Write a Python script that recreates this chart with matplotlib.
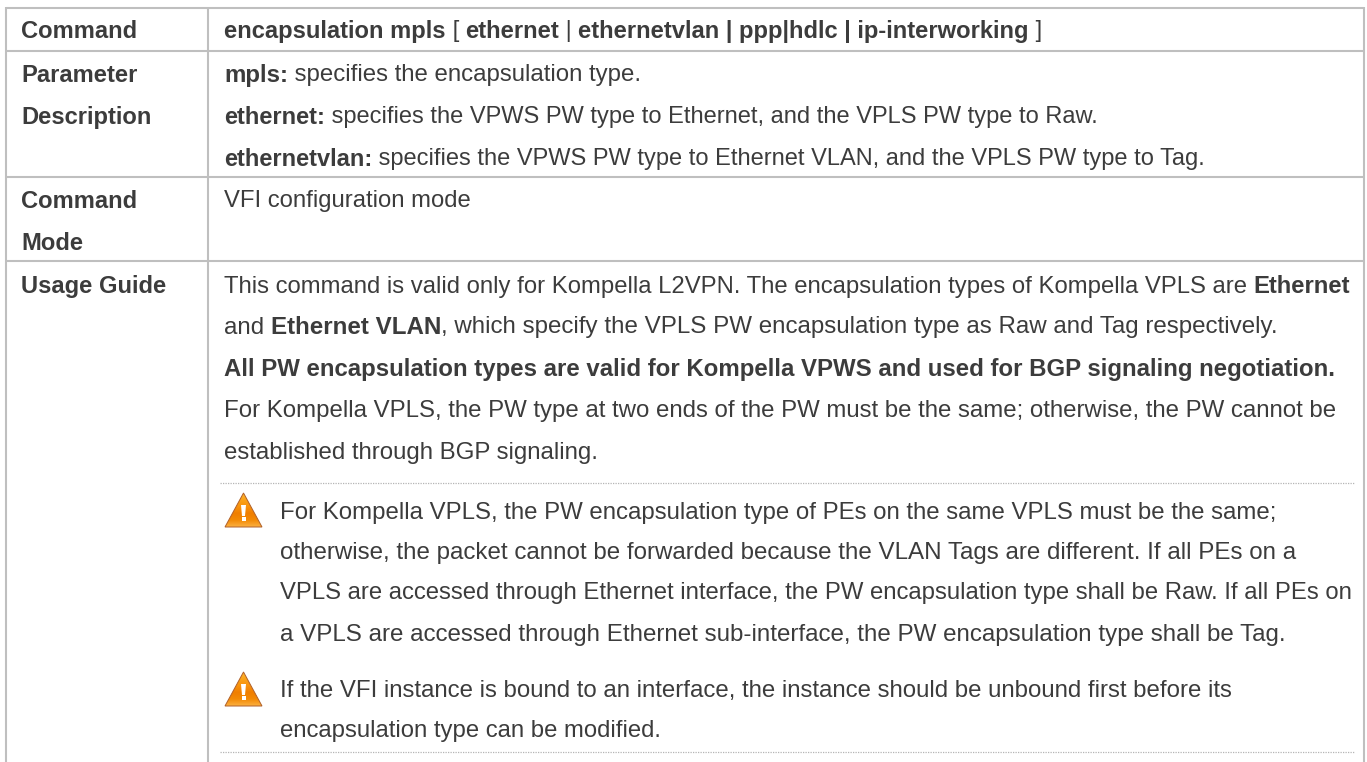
import matplotlib
matplotlib.use('Agg')
import matplotlib.pyplot as plt
from matplotlib.patches import Polygon
import numpy as np

W, H = 1367, 762
GRID = '#bfbfbf'
TEXT = '#3c3c3c'
FONT = 'Liberation Sans'
SIZE = 17.15

# table lines
col_x = [6, 208, 1364]
row_y = [8, 51, 177, 261]
dotted_y = [483, 752]

# (x, y centre, runs) - a run is (text, bold)
left_labels = [
    ('Command', 29), ('Parameter', 73), ('Description', 115),
    ('Command', 199), ('Mode', 241), ('Usage Guide', 284),
]
# last item is where the line ends in the reference
body_lines = [
    (224, 29, [('encapsulation mpls', 1), (' [ ', 0), ('ethernet', 1), (' | ', 0),
               ('ethernetvlan | ppp|hdlc | ip-interworking', 1), (' ]', 0)], 1040),
    (224, 73, [('mpls:', 1), (' specifies the encapsulation type.', 0)], 640),
    (224, 115, [('ethernet:', 1), (' specifies the VPWS PW type to Ethernet, and the VPLS PW type to Raw.', 0)], 1097),
    (224, 157, [('ethernetvlan:', 1), (' specifies the VPWS PW type to Ethernet VLAN, and the VPLS PW type to Tag.', 0)], 1203),
    (224, 199, [('VFI configuration mode', 0)], 471),
    (224, 284, [('This command is valid only for Kompella L2VPN. The encapsulation types of Kompella VPLS are ', 0), ('Ethernet', 1)], 1350),
    (224, 325, [('and ', 0), ('Ethernet VLAN', 1), (', which specify the VPLS PW encapsulation type as Raw and Tag respectively.', 0)], 1277),
    (224, 367, [('All PW encapsulation types are valid for Kompella VPWS and used for BGP signaling negotiation.', 1)], 1335),
    (224, 409, [('For Kompella VPLS, the PW type at two ends of the PW must be the same; otherwise, the PW cannot be', 0)], 1336),
    (224, 451, [('established through BGP signaling.', 0)], 597),
    (280, 510, [('For Kompella VPLS, the PW encapsulation type of PEs on the same VPLS must be the same;', 0)], 1276),
    (280, 550, [('otherwise, the packet cannot be forwarded because the VLAN Tags are different. If all PEs on a', 0)], 1294),
    (280, 591, [('VPLS are accessed through Ethernet interface, the PW encapsulation type shall be Raw. If all PEs on', 0)], 1349),
    (280, 633, [('a VPLS are accessed through Ethernet sub-interface, the PW encapsulation type shall be Tag.', 0)], 1283),
    (280, 688, [('If the VFI instance is bound to an interface, the instance should be unbound first before its', 0)], 1233),
    (280, 729, [('encapsulation type can be modified.', 0)], 661),
]
icon_pos = [(243.5, 510), (243.5, 689)]

fig = plt.figure(figsize=(W / 100, H / 100), dpi=100)
ax = fig.add_axes([0, 0, 1, 1])
ax.set_xlim(0, W)
ax.set_ylim(H, 0)
ax.axis('off')

# grid
for x in col_x:
    ax.plot([x, x], [row_y[0] - 1, H], color=GRID, lw=1.5, solid_capstyle='butt')
for y in row_y:
    ax.plot([col_x[0], col_x[2]], [y, y], color=GRID, lw=1.5, solid_capstyle='butt')
for y in dotted_y:
    ax.plot([220, 1354], [y, y], color='#b5b5b5', lw=0.9, ls=(0, (1, 1)))


def draw_runs(x, y, runs, size=SIZE):
    r = fig.canvas.get_renderer()
    drawn = []
    for s, bold in runs:
        t = ax.text(x, y, s, fontsize=size, family=FONT, color=TEXT, va='center_baseline',
                    fontweight='bold' if bold else 'normal')
        t.set_parse_math(False)
        x = t.get_window_extent(r).x1
        drawn.append(t)
    return x, drawn


for s, y in left_labels:
    draw_runs(21, y, [(s, 1)])
for x, y, runs, end in body_lines:
    # first pass measures, second pass fits the line to the reference width
    right, drawn = draw_runs(x, y, runs)
    for t in drawn:
        t.remove()
    draw_runs(x, y, runs, SIZE * (end - x) / (right - x))

# warning icons
grad = np.linspace(0, 1, 64).reshape(-1, 1)
cmap = matplotlib.colors.LinearSegmentedColormap.from_list(
    'warn', ['#ffb52e', '#fba318', '#f8920c', '#f07e00', '#f38a06', '#fbb040'])
for cx, cy in icon_pos:
    tri = Polygon([(cx, cy - 17), (cx - 18.5, cy + 17), (cx + 18.5, cy + 17)], closed=True,
                  fc='none', ec='#b0602a', lw=0.7, zorder=4)
    ax.add_patch(tri)
    im = ax.imshow(grad, cmap=cmap, extent=[cx - 18.5, cx + 18.5, cy + 17, cy - 17], aspect='auto', zorder=3)
    im.set_clip_path(tri)
    ax.fill([cx - 2.5, cx + 2.5, cx + 1.5, cx - 1.5], [cy - 5, cy - 5, cy + 6, cy + 6],
            color='white', lw=0, zorder=5)
    ax.plot([cx], [cy + 9], 's', color='white', ms=3.2, mew=0, zorder=5)

ax.set_xlim(0, W)
ax.set_ylim(H, 0)
fig.savefig('out.png', dpi=100)
